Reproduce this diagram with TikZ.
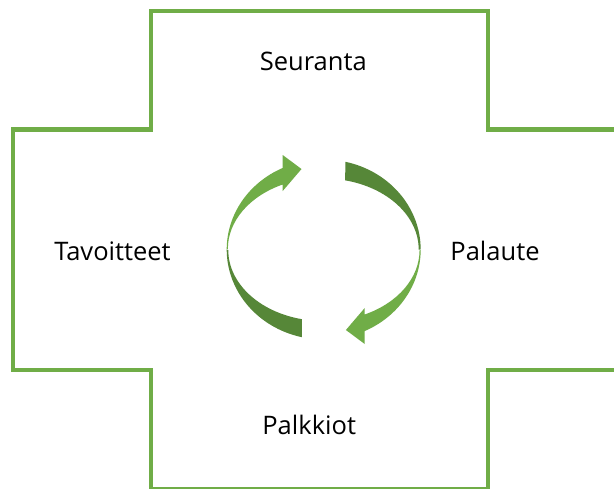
\documentclass[tikz,border=0pt]{standalone}
\usepackage{fontspec}
\setmainfont{Open Sans}
\definecolor{lightg}{RGB}{112,173,71}
\definecolor{darkg}{RGB}{86,135,56}
\begin{document}
\begin{tikzpicture}[x=1pt,y=-1pt,
  frame/.style={draw=lightg,line width=4.5pt,line join=miter},
  lbl/.style={anchor=base,inner sep=0pt,font=\fontsize{25.5}{30}\selectfont,text=black}]
\useasboundingbox (0,0) rectangle (614,488);
\fill[white] (0,0) rectangle (614,488);
% cross frame
\draw[frame] (13,129.5) -- (151,129.5) -- (151,11) -- (488,11) -- (488,129.5) -- (625,129.5)
  -- (625,370) -- (488,370) -- (488,489.5) -- (151,489.5) -- (151,370) -- (13,370) -- cycle;
% left circular arrow
\fill[darkg] (226.7,249.5) arc[start angle=180,end angle=103,x radius=97,y radius=90]
  -- (301.9,319.2) arc[start angle=103,end angle=180,x radius=95,y radius=71] -- cycle;
\fill[lightg] (226.7,249.5) arc[start angle=180,end angle=245,x radius=97,y radius=90]
  -- (282.7,155) -- (301.5,169) -- (282.7,191) -- (282.7,184.5)
  arc[start angle=245,end angle=180,x radius=95,y radius=71] -- cycle;
% right circular arrow
\fill[darkg] (345.5,161.8) arc[start angle=283,end angle=360,x radius=97,y radius=90]
  -- (418.7,249.5) arc[start angle=360,end angle=283,x radius=95,y radius=71] -- cycle;
\fill[lightg] (420.7,249.5) arc[start angle=0,end angle=65,x radius=97,y radius=90]
  -- (364.7,344) -- (345.9,330) -- (364.7,308) -- (364.7,314.5)
  arc[start angle=65,end angle=0,x radius=95,y radius=71] -- cycle;
% labels
\node[lbl] (seuranta) at (313.3,70.7) {Seuranta};
\node[lbl] (tavoitteet) at (112.5,260.7) {Tavoitteet};
\node[lbl] (palaute) at (495,260.7) {Palaute};
\node[lbl] (palkkiot) at (309.2,434) {Palkkiot};
\end{tikzpicture}
\end{document}
